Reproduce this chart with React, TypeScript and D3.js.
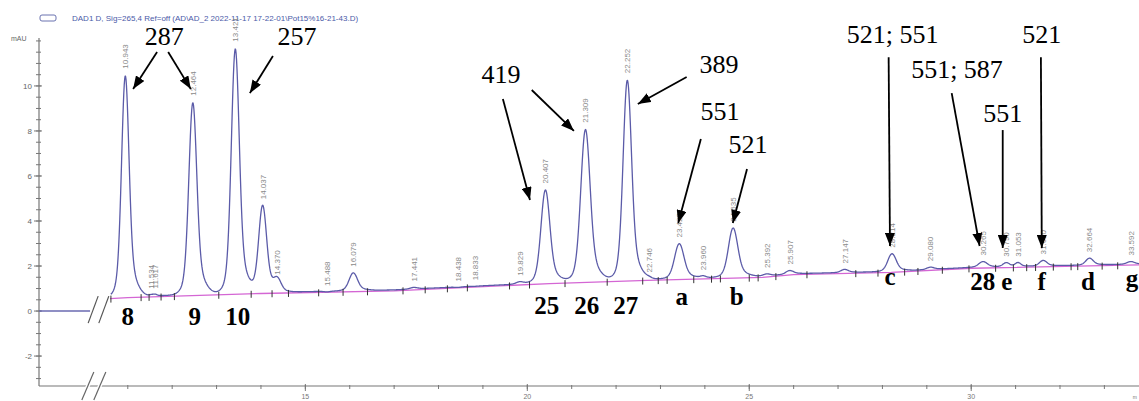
import React from 'react';
import * as d3 from 'd3';

// peak table: retention time (min), apex height (mAU), width (min)
const peakTimes = [10.943, 11.534, 11.617, 12.464, 13.421, 14.037, 14.37, 15.488, 16.079, 17.441, 18.438, 18.833, 19.829, 20.407, 21.309, 22.252, 22.746, 23.422, 23.96, 24.635, 25.392, 25.907, 27.147, 28.214, 29.08, 30.265, 30.79, 31.053, 31.62, 32.664, 33.592];
const peakApex = [10.5, 0.72, 0.74, 9.3, 11.7, 4.7, 1.35, 0.85, 1.7, 1.05, 1.05, 1.1, 1.3, 5.4, 8.1, 10.3, 1.45, 3.0, 1.55, 3.7, 1.65, 1.8, 1.85, 2.55, 1.95, 2.2, 2.15, 2.15, 2.25, 2.35, 2.2];
const peakWidth = [0.08, 0.04, 0.04, 0.085, 0.085, 0.085, 0.08, 0.06, 0.09, 0.08, 0.06, 0.07, 0.08, 0.095, 0.1, 0.09, 0.06, 0.1, 0.06, 0.1, 0.08, 0.08, 0.08, 0.09, 0.08, 0.09, 0.07, 0.06, 0.08, 0.08, 0.08];

// drawn baseline (pink)
const baseTimes = [10.6, 11, 14, 17, 20.5, 22.7, 25.3, 26, 28.2, 30, 33.78];
const baseValues = [0.55, 0.6, 0.78, 0.9, 1.22, 1.36, 1.5, 1.62, 1.72, 1.9, 2.05];

// integration event marks on the baseline
const eventTimes = [10.62, 11.3, 11.48, 11.75, 12.05, 13.05, 13.78, 14.25, 14.62, 15.3, 15.85, 16.4, 17.2, 17.7, 18.2, 18.65, 19.6, 20.05, 20.85, 21.8, 22.6, 22.95, 23.15, 23.75, 24.15, 24.35, 25.0, 25.2, 25.6, 26.3, 27.4, 27.9, 28.5, 28.8, 29.35, 29.95, 30.55, 30.95, 31.25, 31.45, 31.85, 32.25, 32.4, 32.95, 33.3];

// flat section before the axis break
const preTimes = [9, 10.15];
const preValues = [0, 0];

// axis ticks
const yMajor = [-2, 0, 2, 4, 6, 8, 10];
const yMinor = d3.range(-3, 12.01, 0.5);
const xMajor = [15, 20, 25, 30];
const xMinor = d3.range(11, 34, 1);

// wavelength annotations
const noteText = ['287', '257', '419', '389', '551', '521', '521; 551', '551; 587', '551', '521'];
const noteT = [11.82, 14.81, 19.41, 24.32, 24.34, 24.97, 28.23, 29.68, 30.71, 31.59];
const noteV = [11.82, 11.82, 10.13, 10.57, 8.49, 7.02, 11.91, 10.35, 8.4, 11.91];

const arrowFromT = [11.66, 11.91, 14.27, 19.45, 20.1, 23.59, 23.91, 24.95, 28.14, 29.56, 30.71, 31.57];
const arrowFromV = [11.51, 11.51, 11.33, 9.42, 9.82, 10.4, 7.64, 6.31, 11.28, 9.68, 8.04, 11.28];
const arrowToT = [11.12, 12.42, 13.75, 20.06, 21.05, 22.49, 23.4, 24.63, 28.17, 30.19, 30.71, 31.59];
const arrowToV = [9.86, 9.86, 9.68, 4.93, 8.0, 9.2, 3.91, 3.91, 2.89, 2.89, 2.8, 2.8];

// compound numbers under the peaks
const compoundText = ['8', '9', '10', '25', '26', '27', 'a', 'b', 'c', '28', 'e', 'f', 'd', 'g'];
const compoundT = [11.0, 12.51, 13.48, 20.44, 21.34, 22.22, 23.48, 24.72, 28.17, 30.26, 30.8, 31.59, 32.63, 33.62];
const compoundV = [-0.62, -0.62, -0.62, -0.13, -0.13, -0.13, 0.27, 0.27, 1.16, 0.93, 0.93, 0.93, 0.93, 1.07];

const title = 'DAD1 D, Sig=265,4 Ref=off (AD\\AD_2 2022-11-17 17-22-01\\Pot15%16-21-43.D)';

export default function App() {
  const width = 1139;
  const height = 401;

  const x = d3.scaleLinear().domain([9, 33.78]).range([39, 1139]);
  const y = d3.scaleLinear().domain([-3.33, 12.13]).range([386, 38]);
  const baseAt = d3.scaleLinear().domain(baseTimes).range(baseValues).clamp(true);

  const peaks = peakTimes.map((t, i) => ({ t, apex: peakApex[i], w: peakWidth[i] }));

  // gaussian with a little tailing for each peak, on top of the baseline
  const signal = (t: number) => {
    let v = baseAt(t) + 0.04;
    peaks.forEach(p => {
      const amp = p.apex - baseAt(p.t) - 0.04;
      const g1 = Math.exp(-0.5 * ((t - p.t) / p.w) ** 2);
      const g2 = Math.exp(-0.5 * ((t - p.t - p.w * 0.6) / (p.w * 2.2)) ** 2);
      v += amp * (0.86 * g1 + 0.14 * g2);
    });
    return v;
  };

  const trace = d3.range(10.62, 33.78, 0.01).map(t => [t, signal(t)] as [number, number]);

  const line = d3.line<[number, number]>()
    .x(d => x(d[0]))
    .y(d => y(d[1]));

  const basePts = baseTimes.map((t, i) => [t, baseValues[i]] as [number, number]);
  const prePts = preTimes.map((t, i) => [t, preValues[i]] as [number, number]);

  const sans = 'Liberation Sans, Arial, sans-serif';
  const serif = 'Liberation Serif, Times New Roman, serif';

  return (
    <svg width={width} height={height}
      style={{ position: 'absolute', left: 0, top: 0, background: '#fff' }}>
      <defs>
        <marker id="arr" viewBox="0 0 13 10" refX="13" refY="5"
          markerWidth="13" markerHeight="10" markerUnits="userSpaceOnUse" orient="auto">
          <path d="M0,0 L13,5 L0,10 Z" fill="#000" />
        </marker>
      </defs>

      {/* legend / title */}
      <rect x={40} y={15} width={16} height={6} rx={2} fill="none" stroke="#6a73b0" strokeWidth={1} />
      <text x={72} y={21} fontFamily={sans} fontSize={8} fill="#4a5aa8">{title}</text>

      {/* y axis */}
      <line x1={39} x2={39} y1={y(12.13)} y2={386} stroke="#777" strokeWidth={1.2} />
      {yMinor.map(v => (
        <line key={'ym' + v} x1={36} x2={41} y1={y(v)} y2={y(v)} stroke="#777" strokeWidth={1} />
      ))}
      {yMajor.map(v => (
        <g key={'yM' + v}>
          <line x1={34} x2={42} y1={y(v)} y2={y(v)} stroke="#777" strokeWidth={1} />
          <text x={32} y={y(v) + 3} textAnchor="end" fontFamily={sans} fontSize={8} fill="#666">{v}</text>
        </g>
      ))}
      <text x={11} y={41} fontFamily={sans} fontSize={7} fill="#666">mAU</text>

      {/* x axis */}
      <line x1={39} x2={1139} y1={386} y2={386} stroke="#777" strokeWidth={1.2} />
      {xMinor.map(t => (
        <line key={'xm' + t} x1={x(t)} x2={x(t)} y1={385} y2={389} stroke="#777" strokeWidth={1} />
      ))}
      {xMajor.map(t => (
        <g key={'xM' + t}>
          <line x1={x(t)} x2={x(t)} y1={384} y2={391} stroke="#777" strokeWidth={1} />
          <text x={x(t)} y={399} textAnchor="middle" fontFamily={sans} fontSize={7} fill="#777">{t}</text>
        </g>
      ))}
      <text x={1137} y={399} textAnchor="end" fontFamily={sans} fontSize={5} fill="#777">m</text>

      {/* axis break marks */}
      {[10.1, 10.37].map(t => (
        <g key={'xb' + t}>
          <line x1={x(t) - 6} x2={x(t) + 6} y1={400} y2={372} stroke="#fff" strokeWidth={4} />
          <line x1={x(t) - 6} x2={x(t) + 6} y1={400} y2={372} stroke="#666" strokeWidth={1.2} />
        </g>
      ))}

      {/* trace */}
      <path d={line(prePts) ?? ''} fill="none" stroke="#6a6ab0" strokeWidth={1.4} />
      <path d={line(basePts) ?? ''} fill="none" stroke="#d466d4" strokeWidth={1.3} />
      <path d={line(trace) ?? ''} fill="none" stroke="#5b5ba8" strokeWidth={1.3} strokeLinejoin="round" />
      {[10.22, 10.46].map(t => (
        <line key={'sb' + t} x1={x(t) - 5} x2={x(t) + 5} y1={y(0.04) + 13} y2={y(0.04) - 14}
          stroke="#555" strokeWidth={1.2} />
      ))}

      {/* integration marks */}
      {eventTimes.map(t => (
        <line key={'ev' + t} x1={x(t)} x2={x(t)} y1={y(baseAt(t)) - 3} y2={y(baseAt(t)) + 4}
          stroke="#333" strokeWidth={1} />
      ))}

      {/* retention time labels */}
      {peaks.map(p => (
        <text key={'rt' + p.t} transform={`translate(${x(p.t) + 3},${y(p.apex) - 6}) rotate(-90)`}
          fontFamily={sans} fontSize={8} fill="#8a8a8a">{p.t.toFixed(3)}</text>
      ))}

      {/* arrows */}
      {arrowFromT.map((t, i) => (
        <line key={'ar' + i} x1={x(t)} y1={y(arrowFromV[i])} x2={x(arrowToT[i])} y2={y(arrowToV[i])}
          stroke="#000" strokeWidth={1.8} markerEnd="url(#arr)" />
      ))}

      {/* wavelength notes */}
      {noteText.map((s, i) => (
        <text key={'nt' + i} x={x(noteT[i])} y={y(noteV[i])} textAnchor="middle"
          fontFamily={serif} fontSize={26} fill="#000">{s}</text>
      ))}

      {/* compound numbers */}
      {compoundText.map((s, i) => (
        <text key={'cp' + i} x={x(compoundT[i])} y={y(compoundV[i])} textAnchor="middle"
          fontFamily={serif} fontWeight="bold" fontSize={25} fill="#000">{s}</text>
      ))}
    </svg>
  );
}
